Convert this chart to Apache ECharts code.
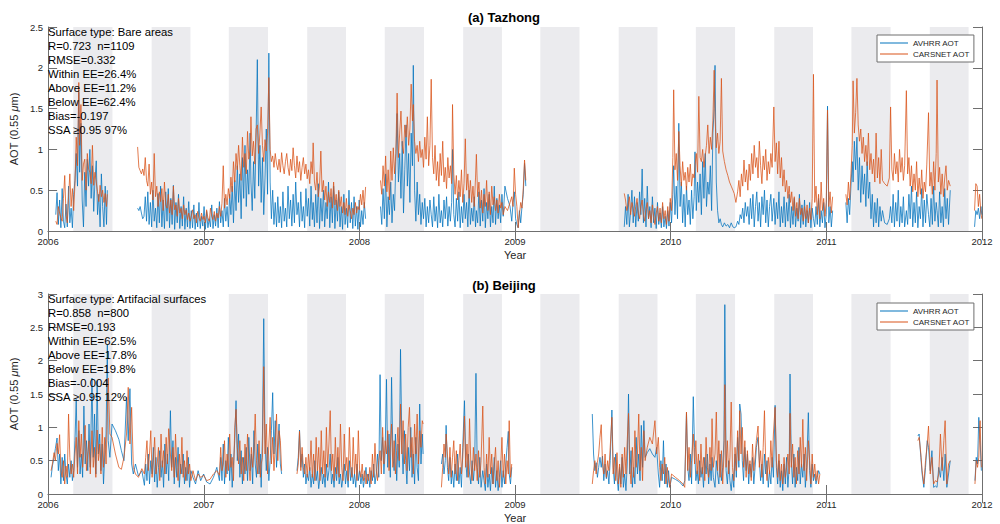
<!DOCTYPE html>
<html>
<head>
<meta charset="utf-8">
<title>AVHRR vs CARSNET AOT</title>
<script src="https://cdn.jsdelivr.net/npm/echarts@6/dist/echarts.min.js"></script>
<style>
  html, body { margin: 0; padding: 0; background: #ffffff; }
  #chart { width: 1000px; height: 524px; }
</style>
</head>
<body>
<div id="chart"></div>
<script>
// ---- data -------------------------------------------------------------
const FONT = '"Liberation Sans", Arial, Helvetica, sans-serif';
const yearTicks = [2006, 2007, 2008, 2009, 2010, 2011, 2012];
const shadedYears = [2006, 2007, 2008, 2009, 2010, 2011];
// shaded seasons: [start month, end month) -> MAM and SON
const shadedSeasons = [[3, 6], [9, 12]];
const seriesNames = ['AVHRR AOT', 'CARSNET AOT'];
const panelTitles = ['(a) Tazhong', '(b) Beijing'];
const panelYMax = [2.5, 3];

const tazhongStats = [
  'Surface type: Bare areas', 'R=0.723  n=1109', 'RMSE=0.332', 'Within EE=26.4%',
  'Above EE=11.2%', 'Below EE=62.4%', 'Bias=-0.197', 'SSA \u22650.95 97%'
];
const beijingStats = [
  'Surface type: Artifacial surfaces', 'R=0.858  n=800', 'RMSE=0.193', 'Within EE=62.5%',
  'Above EE=17.8%', 'Below EE=19.8%', 'Bias=-0.004', 'SSA \u22650.95 12%'
];

// rows: [days since 2006-01-01, AVHRR AOT, CARSNET AOT]; null rows break the line
const tazhongObs = [
  [18,0.20,0.12],[21,0.47,0.08],[24,0.08,0.30],[27,0.38,0.22],[30,0.04,0.16],[33,0.52,0.12],[36,0.12,0.40],[39,0.04,0.68],
  [42,0.33,0.20],[45,0.05,0.10],[48,0.55,0.42],[51,0.10,0.70],[54,0.28,0.30],[57,0.04,0.52],[60,0.45,0.25],[63,0.62,0.58],
  [66,0.95,1.15],[69,0.55,0.80],[72,1.70,1.82],[74,0.72,1.05],[77,1.32,1.55],[80,0.38,0.62],[83,0.05,0.82],[86,0.72,0.88],
  [89,0.30,0.50],[92,0.88,0.95],[95,0.55,0.76],[98,1.00,0.72],[101,0.40,0.58],[104,0.80,1.05],[107,0.24,0.56],[110,0.62,0.72],
  [113,0.86,0.60],[116,0.20,0.48],[119,0.45,0.36],[122,0.05,0.56],[125,0.70,0.42],[128,0.30,0.50],[131,0.05,0.35],[134,0.55,0.46],
  [137,0.08,0.30],[139,0.50,0.45],[170,null,null],
  [210,0.28,1.03],[213,0.25,0.78],[216,0.30,0.74],[219,0.22,0.70],[222,0.15,0.76],[225,0.18,0.68],[228,0.42,0.90],[231,0.12,0.62],
  [234,0.48,0.55],[237,0.08,0.82],[240,0.35,0.45],[243,0.05,0.60],[246,0.50,0.38],[249,0.12,0.95],[252,0.28,0.42],[255,0.04,0.55],
  [258,0.46,0.30],[261,0.10,0.48],[264,0.55,0.36],[267,0.05,0.52],[270,0.38,0.25],[273,0.03,0.60],[276,0.48,0.32],[279,0.12,0.28],
  [282,0.52,0.45],[285,0.04,0.22],[288,0.40,0.38],[291,0.08,0.20],[294,0.56,0.55],[297,0.02,0.26],[300,0.35,0.32],[303,0.10,0.18],
  [306,0.45,0.40],[309,0.03,0.22],[312,0.30,0.28],[315,0.06,0.15],[318,0.42,0.32],[321,0.02,0.20],[324,0.28,0.26],[327,0.05,0.14],
  [330,0.36,0.22],[333,0.03,0.12],[336,0.25,0.18],[339,0.04,0.26],[342,0.32,0.15],[345,0.02,0.20],[348,0.22,0.10],[351,0.05,0.24],
  [354,0.35,0.16],[357,0.03,0.12],[360,0.18,0.22],[363,0.06,0.14],[366,0.30,0.18],[369,0.02,0.10],[372,0.24,0.26],[375,0.04,0.16],
  [378,0.15,0.12],[381,0.05,0.28],[384,0.32,0.18],[387,0.03,0.14],[390,0.20,0.24],[393,0.06,0.12],[396,0.28,0.22],[399,0.04,0.16],
  [402,0.36,0.30],[405,0.10,0.18],[408,0.25,0.34],[411,0.05,0.80],[414,0.40,0.28],[417,0.12,0.45],[420,0.30,0.32],[423,0.05,0.52],
  [426,0.45,0.40],[429,0.20,0.66],[432,0.55,0.48],[435,0.10,0.85],[438,0.62,0.60],[441,0.25,0.95],[444,0.80,0.75],[447,0.35,1.05],
  [450,0.70,0.80],[453,0.15,0.62],[456,0.90,1.15],[459,0.40,0.78],[462,1.05,0.95],[465,0.30,0.70],[468,0.75,1.22],[471,0.45,0.88],
  [474,1.20,1.00],[476,0.60,1.40],[479,0.25,0.92],[482,0.85,1.10],[485,0.40,0.82],[488,1.15,1.25],[491,2.10,1.30],[494,0.55,0.95],
  [497,1.05,1.20],[500,0.35,1.52],[503,0.90,1.05],[506,0.20,0.85],[509,0.65,1.12],[512,1.25,0.98],[515,0.45,1.20],[518,2.18,1.88],
  [521,0.60,1.00],[524,0.15,0.85],[527,0.50,0.92],[530,0.08,0.78],[533,0.35,0.95],[536,0.05,0.82],[539,0.42,0.75],[542,0.10,0.88],
  [545,0.30,0.72],[548,0.04,0.96],[551,0.48,0.80],[554,0.12,0.70],[557,0.28,0.85],[560,0.05,0.95],[563,0.55,0.78],[566,0.15,0.68],
  [569,0.38,0.88],[572,0.06,0.74],[575,0.45,1.02],[578,0.10,0.80],[581,0.60,0.65],[584,0.20,0.92],[587,0.35,0.72],[590,0.05,0.85],
  [593,0.48,0.62],[596,0.12,0.78],[599,0.30,0.90],[602,0.04,0.70],[605,0.52,0.82],[608,0.18,0.64],[611,0.40,0.75],[614,0.06,0.58],
  [617,0.55,0.85],[620,0.14,0.70],[622,0.35,1.08],[625,0.05,0.60],[628,0.45,0.50],[631,0.10,0.72],[634,0.58,0.42],[637,0.03,0.55],
  [640,0.40,0.98],[643,0.12,0.48],[646,0.50,0.62],[649,0.05,0.38],[652,0.35,0.55],[655,0.15,0.30],[658,0.60,0.48],[661,0.04,0.35],
  [664,0.42,0.52],[667,0.10,0.28],[670,0.55,0.60],[673,0.03,0.32],[676,0.38,0.45],[679,0.12,0.25],[682,0.48,0.50],[685,0.05,0.30],
  [688,0.30,0.42],[691,0.02,0.22],[694,0.45,0.35],[697,0.08,0.20],[700,0.28,0.40],[703,0.04,0.18],[706,0.50,0.32],[709,0.10,0.25],
  [712,0.35,0.15],[715,0.03,0.28],[718,0.42,0.20],[721,0.06,0.35],[724,0.30,0.22],[727,0.02,0.30],[730,0.38,0.26],[733,0.05,0.45],
  [736,0.25,0.32],[739,0.08,0.50],[742,0.35,0.28],[745,0.15,0.54],[760,null,null],
  [780,0.30,0.62],[783,0.08,0.45],[786,0.52,0.80],[789,0.15,0.55],[792,0.70,0.92],[795,0.05,0.48],[798,0.42,0.75],[801,0.20,0.38],
  [804,0.60,0.98],[807,0.10,0.62],[810,0.45,1.02],[813,0.25,0.70],[816,0.85,0.95],[819,1.44,1.69],[822,0.60,0.90],[825,0.95,1.20],
  [828,0.40,1.47],[831,1.10,1.05],[834,0.22,0.95],[837,0.75,1.30],[840,1.30,1.15],[843,0.55,1.40],[846,0.95,1.05],[849,0.35,1.25],
  [852,1.20,1.80],[855,0.80,1.35],[857,2.03,1.55],[860,0.50,1.10],[863,0.12,0.95],[866,0.60,1.05],[869,0.20,0.85],[872,0.45,1.10],
  [875,0.08,0.90],[878,0.35,1.00],[881,0.15,0.78],[884,0.40,1.15],[887,0.05,0.88],[890,0.30,1.40],[893,0.10,0.80],[896,0.38,1.05],
  [899,0.20,1.86],[902,0.05,0.90],[905,0.42,0.70],[908,0.12,1.05],[911,0.30,0.62],[914,0.04,0.85],[917,0.45,0.55],[920,0.10,0.95],
  [923,0.25,0.68],[926,0.05,1.10],[929,0.38,0.60],[932,0.15,0.78],[935,0.42,0.52],[938,0.06,0.90],[941,0.30,0.65],[944,0.12,0.80],
  [947,0.35,0.58],[949,1.00,1.55],[952,0.20,0.70],[955,0.05,0.45],[958,0.40,0.68],[961,0.12,0.38],[964,0.48,0.62],[967,0.04,0.42],
  [970,0.30,0.75],[973,0.10,0.35],[976,0.45,0.58],[979,0.15,1.13],[982,0.35,0.50],[985,0.05,0.70],[988,0.50,0.40],[991,0.08,0.62],
  [994,0.28,0.35],[997,0.12,0.55],[1000,0.42,0.30],[1003,0.05,0.65],[1005,0.25,0.94],[1008,0.10,0.42],[1011,0.48,0.60],[1014,0.06,0.28],
  [1017,0.38,0.50],[1020,0.12,0.22],[1023,0.52,0.45],[1026,0.04,0.30],[1029,0.35,0.62],[1032,0.15,0.25],[1035,0.45,0.48],[1038,0.05,0.20],
  [1041,0.30,0.55],[1044,0.10,0.32],[1047,0.55,0.42],[1050,0.08,0.25],[1053,0.40,0.38],[1056,0.15,0.22],[1059,0.32,0.45],[1062,0.10,0.28],
  [1065,0.45,0.35],[1068,0.18,0.20],[1072,0.55,0.30],[1078,0.40,0.25],[1084,0.30,0.35],[1088,0.12,0.42],[1091,0.35,0.30],[1094,0.48,0.77],
  [1097,0.15,0.45],[1100,0.08,0.30],[1103,0.04,0.04],[1106,0.25,0.20],[1109,0.10,0.35],[1112,0.30,0.28],[1115,0.45,0.52],[1118,0.83,0.87],
  [1121,0.55,0.62],[1200,null,null],
  [1352,0.05,0.46],[1355,0.30,0.38],[1358,0.08,0.25],[1361,0.45,0.32],[1364,0.05,0.42],[1367,0.25,0.20],[1370,0.50,0.35],[1373,0.10,0.28],
  [1376,0.42,0.18],[1379,0.05,0.30],[1382,0.35,0.40],[1385,0.12,0.22],[1388,0.48,0.15],[1391,0.20,0.30],[1394,0.76,0.38],[1397,0.10,0.20],
  [1400,0.40,0.12],[1403,0.05,0.28],[1406,0.55,0.35],[1409,0.15,0.15],[1412,0.30,0.25],[1415,0.04,0.10],[1418,0.42,0.32],[1421,0.10,0.18],
  [1424,0.28,0.08],[1427,0.03,0.22],[1430,0.35,0.30],[1433,0.08,0.12],[1436,0.22,0.28],[1439,0.04,0.10],[1442,0.30,0.35],[1445,0.05,0.15],
  [1448,0.18,0.25],[1451,0.03,0.08],[1454,0.25,0.30],[1457,0.06,0.12],[1460,0.35,0.40],[1463,0.10,0.25],[1466,0.45,0.90],[1468,0.80,1.73],
  [1471,0.20,0.75],[1474,0.55,0.95],[1477,0.15,0.62],[1480,1.32,1.22],[1483,0.30,0.80],[1486,0.60,0.55],[1489,0.10,0.85],[1492,0.45,0.62],
  [1495,0.05,0.72],[1498,0.55,0.50],[1501,0.20,0.78],[1504,0.38,0.60],[1507,0.08,0.82],[1510,0.50,0.55],[1513,0.15,0.70],[1516,0.42,0.65],
  [1518,0.97,0.80],[1521,0.25,0.95],[1524,0.60,0.72],[1527,0.35,1.65],[1530,0.70,0.90],[1533,0.20,0.85],[1536,0.85,1.00],[1539,0.40,0.78],
  [1542,0.95,0.92],[1545,0.30,1.05],[1548,0.60,1.30],[1551,0.45,0.95],[1554,0.80,1.15],[1557,0.25,1.00],[1560,1.20,1.35],[1563,1.50,1.97],
  [1565,2.03,1.40],[1568,0.60,1.02],[1571,0.25,1.20],[1574,0.10,0.95],[1577,0.15,1.10],[1580,0.08,1.87],[1583,0.05,0.98],[1587,0.10,0.85],
  [1591,0.06,0.75],[1595,0.08,0.68],[1599,0.04,0.60],[1603,0.10,0.55],[1607,0.05,0.50],[1610,0.04,0.46],[1614,0.05,0.35],[1618,0.12,0.48],
  [1621,0.08,0.62],[1624,0.20,0.42],[1627,0.15,0.70],[1630,0.28,0.55],[1633,0.10,0.87],[1636,0.35,0.60],[1639,0.18,0.75],[1642,0.30,0.50],
  [1645,0.08,0.82],[1648,0.40,0.62],[1651,0.15,0.95],[1654,0.45,0.70],[1657,0.05,1.05],[1660,0.30,0.78],[1663,0.48,0.90],[1666,0.12,0.65],
  [1669,0.35,1.10],[1672,0.05,0.80],[1675,0.42,0.58],[1678,0.20,0.92],[1681,0.50,0.75],[1684,0.10,1.00],[1687,0.38,0.62],[1690,0.05,0.85],
  [1693,0.30,0.70],[1696,0.45,0.95],[1699,0.12,0.78],[1703,0.40,1.52],[1706,0.08,0.85],[1709,0.35,1.08],[1712,0.15,0.70],[1715,0.48,1.10],
  [1718,0.05,0.65],[1721,0.30,0.90],[1724,0.10,0.55],[1727,0.42,0.75],[1730,0.05,0.48],[1733,0.35,0.62],[1736,0.12,0.40],[1739,0.45,0.55],
  [1742,0.04,0.35],[1745,0.30,0.48],[1748,0.08,0.25],[1751,0.40,0.42],[1754,0.05,0.18],[1757,0.28,0.35],[1760,0.12,0.15],[1763,0.45,0.40],
  [1766,0.04,0.20],[1769,0.32,0.28],[1772,0.08,0.12],[1775,0.38,0.30],[1778,0.05,0.15],[1781,0.25,0.32],[1784,0.10,0.10],[1787,0.35,0.28],
  [1790,0.04,0.14],[1793,0.28,0.40],[1796,0.15,1.92],[1799,0.05,0.35],[1802,0.30,0.55],[1805,0.08,0.20],[1808,0.40,0.45],[1811,0.05,0.15],
  [1814,0.25,0.60],[1817,0.10,0.25],[1820,0.35,0.40],[1823,0.04,0.18],[1826,0.20,0.35],[1829,1.53,1.48],[1832,0.10,0.30],[1835,0.30,0.48],
  [1838,0.05,0.22],[1841,0.25,0.42],[1855,null,null],
  [1872,0.35,0.45],[1875,0.10,0.32],[1878,0.40,0.60],[1881,0.20,0.38],[1884,0.55,0.70],[1887,0.85,1.05],[1889,0.60,1.84],[1892,1.10,1.20],
  [1895,0.75,1.45],[1898,1.15,1.87],[1901,0.50,1.30],[1904,0.90,1.10],[1907,0.35,1.25],[1910,0.80,0.95],[1913,0.45,1.15],[1916,0.70,0.85],
  [1919,0.30,1.05],[1922,0.85,0.80],[1925,0.40,1.20],[1928,0.60,0.75],[1931,0.15,0.95],[1934,0.45,0.70],[1937,0.05,0.88],[1940,0.35,0.60],
  [1943,0.10,1.20],[1946,0.40,0.65],[1949,0.05,0.90],[1952,0.30,0.58],[1955,0.12,1.00],[1958,0.25,0.62],[1963,0.10,0.58],[1969,0.08,0.55],
  [1974,0.15,0.65],[1977,0.30,1.52],[1980,0.10,0.75],[1983,0.45,0.62],[1986,0.05,0.95],[1989,0.35,0.70],[1992,0.12,0.85],[1995,0.50,0.60],
  [1998,0.05,1.00],[2001,0.30,0.72],[2004,0.10,0.90],[2007,0.42,0.62],[2010,0.05,0.80],[2014,0.25,1.72],[2017,0.08,0.70],[2020,0.45,0.90],
  [2023,0.15,0.55],[2026,0.55,0.80],[2029,0.05,0.48],[2032,0.35,0.70],[2035,0.10,0.50],[2038,0.48,0.85],[2041,0.04,0.42],[2044,0.30,0.65],
  [2047,0.15,0.45],[2050,0.52,0.75],[2053,0.05,0.40],[2056,0.38,0.60],[2059,0.10,0.48],[2062,0.45,0.82],[2066,0.20,1.45],[2069,0.05,0.55],
  [2072,0.40,0.72],[2075,0.08,0.45],[2078,0.55,0.85],[2081,0.12,0.50],[2084,0.35,0.95],[2086,0.25,1.85],[2089,0.05,0.60],[2092,0.48,0.78],
  [2095,0.10,0.45],[2098,0.30,0.70],[2101,0.05,0.42],[2104,0.52,0.65],[2107,0.15,0.80],[2110,0.40,0.50],[2113,0.08,0.62],[2117,0.50,0.55],
  [2140,null,null],
  [2174,0.05,0.25],[2177,0.25,0.58],[2180,0.20,0.55],[2183,0.28,0.30],[2186,0.15,0.45],[2189,0.30,0.22],[2191,0.20,0.15]
];

const beijingObs = [
  [7,0.25,0.35],[10,0.42,0.45],[14,0.55,0.62],[17,0.68,0.50],[21,0.84,0.76],[24,0.35,0.60],[27,0.60,0.89],[30,0.15,0.35],
  [33,0.55,0.25],[36,0.20,0.50],[39,0.60,0.15],[42,0.30,0.42],[45,0.15,0.25],[48,0.45,1.20],[51,0.25,0.55],[54,0.50,0.30],
  [57,0.20,0.45],[60,0.35,0.25],[63,0.80,0.60],[66,1.42,0.85],[69,0.40,0.30],[72,0.95,1.10],[75,0.30,0.55],[78,0.60,0.90],
  [81,0.25,0.40],[84,1.32,0.70],[87,0.45,1.03],[90,0.80,0.35],[93,0.35,0.60],[96,1.05,0.80],[99,0.40,0.30],[103,1.74,0.95],
  [106,0.55,0.40],[109,1.20,0.70],[112,0.30,0.25],[115,1.70,0.96],[118,0.60,0.50],[121,0.90,0.75],[124,0.35,0.30],[127,0.75,1.00],
  [130,0.15,0.40],[133,0.60,0.85],[136,0.90,0.45],[139,2.24,1.20],[141,0.80,1.74],[145,0.55,0.90],[150,1.05,0.85],[158,0.95,0.60],
  [166,0.82,0.40],[172,0.65,0.37],[178,0.50,0.55],[184,1.45,0.90],[188,0.80,1.60],[192,1.58,0.75],[196,0.45,1.30],[200,0.30,0.40],
  [205,0.45,0.30],[212,0.27,0.25],[220,0.35,0.38],[226,0.13,0.30],[229,0.45,0.55],[232,0.20,0.80],[235,0.60,0.35],[238,0.15,0.60],
  [241,0.50,0.95],[244,0.30,0.25],[247,0.70,0.50],[250,0.18,0.85],[253,0.55,0.30],[256,0.10,0.45],[259,0.40,0.70],[262,0.65,0.20],
  [265,0.25,0.90],[268,0.50,0.40],[271,0.10,0.65],[274,0.75,0.30],[277,0.30,0.85],[280,0.60,0.45],[283,0.20,0.98],[287,1.25,0.60],
  [290,0.40,0.35],[293,0.80,0.70],[296,0.15,0.25],[299,0.55,0.90],[302,0.25,0.40],[305,0.70,0.20],[308,0.10,0.60],[311,0.45,0.30],
  [314,0.30,0.85],[317,0.60,0.25],[320,0.15,0.50],[323,0.40,0.20],[326,0.20,0.65],[329,0.55,0.30],[332,0.10,0.45],[335,0.35,0.20],
  [340,0.25,0.35],[346,0.15,0.20],[352,0.35,0.30],[358,0.20,0.25],[365,0.30,0.28],[372,0.18,0.20],[380,0.15,0.22],[388,0.25,0.30],
  [396,0.40,0.35],[402,0.20,0.28],[405,0.55,0.70],[408,0.20,0.35],[411,0.75,0.45],[414,0.15,0.80],[417,0.50,0.25],[420,0.30,0.60],
  [423,0.85,0.35],[426,0.20,0.90],[429,0.60,0.40],[432,0.10,0.55],[435,0.45,0.20],[438,0.80,1.00],[441,1.40,1.27],[444,0.50,0.70],
  [447,0.90,0.45],[450,0.25,0.80],[453,0.65,0.30],[456,0.15,0.55],[459,0.55,0.20],[462,0.30,0.75],[465,0.70,0.35],[468,0.20,0.90],
  [471,0.85,0.45],[474,0.35,0.20],[477,0.60,0.70],[480,0.15,0.40],[483,0.95,0.65],[486,0.45,1.20],[489,0.25,0.50],[492,0.75,0.30],
  [495,0.30,0.80],[498,0.60,0.25],[500,0.10,0.45],[503,0.90,0.55],[506,2.63,1.91],[509,0.80,0.60],[512,0.35,1.05],[515,0.70,0.30],
  [518,0.20,0.75],[521,0.50,1.15],[524,0.95,0.45],[527,1.52,0.85],[530,0.60,0.35],[533,1.10,0.70],[536,0.40,1.20],[539,0.75,0.50],
  [542,1.05,0.95],[545,0.45,0.80],[548,0.30,0.35],[570,null,null],
  [584,0.35,0.30],[587,0.55,0.45],[590,0.96,0.94],[593,0.40,0.35],[596,0.60,0.70],[599,0.25,0.40],[602,0.45,0.30],[605,0.15,0.55],
  [608,0.30,0.25],[611,0.20,0.60],[614,0.40,0.35],[617,0.10,0.80],[620,0.30,0.25],[623,0.15,0.60],[626,0.50,0.20],[629,0.20,0.85],
  [632,0.35,0.35],[635,0.08,0.70],[638,0.25,0.20],[641,0.40,0.95],[644,0.15,0.30],[647,0.30,0.65],[650,0.10,0.25],[653,0.45,1.00],
  [656,0.20,0.40],[659,0.35,0.75],[662,0.60,1.25],[665,0.15,0.35],[668,0.30,0.60],[671,0.10,0.20],[674,0.40,0.85],[677,0.20,0.30],
  [680,0.55,0.70],[683,0.15,0.25],[686,0.30,1.05],[689,0.10,0.40],[692,0.25,0.20],[695,0.45,0.90],[698,0.15,0.35],[701,0.35,0.55],
  [704,0.10,0.20],[707,0.50,1.00],[710,0.20,0.40],[713,0.40,0.25],[716,0.15,0.85],[719,0.30,0.30],[722,0.10,0.60],[725,0.45,0.20],
  [728,0.20,0.95],[731,0.35,0.35],[734,0.15,0.25],[737,0.30,0.45],[740,0.10,0.20],[743,0.25,0.35],[746,0.40,0.15],[749,0.15,0.30],
  [752,0.30,0.20],[755,0.10,0.40],[758,0.35,0.15],[761,0.20,0.60],[764,0.45,0.25],[767,0.15,0.76],[770,0.30,0.35],[773,0.60,0.20],
  [776,0.25,0.50],[779,1.79,0.65],[782,0.50,0.30],[785,0.85,1.00],[788,0.30,0.45],[791,0.65,0.80],[794,1.72,0.60],[797,0.40,0.95],
  [800,0.90,0.35],[803,0.25,0.70],[806,1.75,1.05],[809,0.60,0.40],[812,0.35,0.80],[815,0.90,0.30],[818,0.20,0.65],[821,0.75,1.00],
  [824,0.40,0.50],[827,2.17,1.35],[830,0.80,0.60],[833,0.30,1.10],[836,0.95,0.45],[839,0.50,0.90],[842,0.15,0.35],[845,0.70,1.00],
  [848,0.35,1.30],[851,1.00,0.55],[854,0.25,0.85],[857,0.60,0.30],[860,0.15,1.05],[863,0.85,0.60],[866,0.40,1.20],[869,0.20,0.45],
  [872,1.35,0.95],[875,0.45,0.70],[878,0.90,1.10],[880,0.60,1.05],[895,null,null],
  [923,0.45,0.10],[926,0.60,0.40],[929,0.30,0.75],[932,0.50,0.55],[934,1.03,0.90],[937,0.40,0.60],[940,0.20,0.30],[943,0.55,0.70],
  [946,0.15,0.25],[949,0.35,0.55],[952,0.10,0.80],[955,0.45,0.30],[958,0.20,0.65],[961,0.60,0.20],[964,0.15,0.50],[967,0.40,0.75],
  [970,0.10,0.30],[973,0.70,0.55],[977,1.40,1.17],[980,0.50,0.40],[983,0.25,0.75],[986,0.60,0.25],[989,0.30,1.13],[992,0.15,0.45],
  [995,0.50,0.20],[998,0.20,0.70],[1001,0.45,0.35],[1004,1.81,0.60],[1007,0.40,0.20],[1010,0.15,0.65],[1013,0.55,0.25],[1016,0.10,0.50],
  [1020,0.35,1.32],[1023,0.20,0.40],[1026,0.05,0.15],[1029,0.45,0.60],[1032,0.10,0.25],[1035,0.30,0.85],[1038,0.05,0.30],[1041,0.40,0.60],
  [1044,0.15,0.15],[1047,0.55,0.45],[1050,0.10,0.70],[1053,0.35,0.20],[1056,0.05,0.50],[1059,0.25,0.10],[1062,0.50,0.40],[1065,0.10,0.85],
  [1068,0.35,0.25],[1071,0.15,0.60],[1074,0.45,0.15],[1077,0.70,0.50],[1080,0.94,0.30],[1082,0.30,1.10],[1085,0.15,0.25],[1088,0.40,0.45],
  [1110,null,null],
  [1277,1.20,0.15],[1280,0.60,0.35],[1283,0.35,0.50],[1286,0.47,0.30],[1289,0.25,0.47],[1292,0.40,0.60],[1295,0.55,0.85],[1298,0.40,1.04],
  [1301,0.57,0.45],[1304,0.20,0.30],[1307,0.45,0.60],[1310,0.23,0.25],[1313,0.35,0.50],[1316,0.15,0.35],[1319,0.50,0.70],[1323,1.26,1.15],
  [1326,0.40,0.30],[1329,0.15,0.55],[1332,0.60,0.20],[1335,0.25,0.62],[1338,0.05,0.15],[1341,0.40,0.45],[1344,0.15,0.10],[1347,0.55,0.60],
  [1350,0.10,0.25],[1353,0.30,0.70],[1356,0.05,0.30],[1359,0.45,0.80],[1362,1.50,1.21],[1365,0.30,0.40],[1368,0.65,0.15],[1371,0.10,0.70],
  [1374,0.40,0.25],[1377,0.15,0.95],[1380,0.85,0.40],[1383,0.30,0.60],[1386,0.60,1.20],[1389,0.20,0.35],[1392,1.03,0.70],[1395,0.40,0.20],
  [1398,1.10,0.95],[1401,0.55,0.50],[1406,0.62,0.70],[1412,0.68,0.85],[1418,0.60,0.75],[1424,0.55,1.10],[1428,0.70,0.60],[1432,0.30,0.85],
  [1435,0.10,0.40],[1438,0.50,0.20],[1441,0.20,0.45],[1444,0.80,0.30],[1447,0.15,0.55],[1450,0.45,0.15],[1453,0.10,0.40],[1456,0.35,0.20],
  [1459,0.10,0.10],[1463,0.25,0.30],[1472,0.22,0.25],[1482,0.18,0.20],[1490,0.12,0.15],[1494,0.20,0.10],[1498,1.22,1.23],[1501,0.40,0.35],
  [1504,0.20,0.70],[1507,0.60,0.25],[1510,0.15,0.50],[1514,1.46,0.90],[1517,0.70,0.45],[1520,0.20,0.80],[1523,0.35,0.30],[1526,0.15,0.60],
  [1529,0.50,0.20],[1532,0.25,0.75],[1535,0.40,0.30],[1538,0.10,0.55],[1541,0.55,0.20],[1544,0.30,0.85],[1547,0.60,0.40],[1550,0.15,0.25],
  [1553,0.45,0.70],[1556,0.20,0.35],[1558,0.55,1.13],[1561,0.25,0.40],[1565,0.10,0.60],[1568,0.50,1.23],[1571,0.30,0.35],[1574,0.15,0.80],
  [1577,0.60,0.25],[1580,0.20,0.65],[1583,0.40,0.15],[1586,0.80,0.60],[1588,2.84,1.64],[1591,0.35,0.40],[1594,0.15,0.80],[1597,0.50,0.30],
  [1600,0.20,0.55],[1603,0.05,1.38],[1606,0.30,0.40],[1609,0.10,0.20],[1612,0.60,0.70],[1615,0.25,0.35],[1618,0.85,0.95],[1621,0.40,0.50],
  [1623,1.35,1.25],[1626,1.20,0.60],[1629,0.50,1.00],[1632,0.20,0.40],[1635,0.70,0.80],[1638,0.35,0.25],[1641,0.60,0.65],[1644,0.15,0.30],
  [1647,0.45,0.50],[1650,0.25,0.20],[1653,0.55,0.75],[1656,0.15,0.35],[1659,0.40,0.55],[1662,0.70,0.80],[1666,0.85,1.02],[1669,0.50,0.40],
  [1672,0.20,0.65],[1675,0.45,0.25],[1678,0.15,0.70],[1681,0.60,1.25],[1684,0.30,0.45],[1687,0.50,0.20],[1690,0.10,0.55],[1693,0.35,0.30],
  [1696,0.15,0.80],[1699,0.55,0.40],[1702,0.25,0.90],[1706,1.33,1.30],[1709,0.40,0.50],[1712,0.15,0.25],[1715,0.50,0.60],[1718,0.10,0.20],
  [1721,0.35,0.45],[1724,0.05,0.15],[1727,0.45,0.55],[1730,0.15,0.25],[1733,0.55,0.40],[1736,0.10,0.60],[1739,0.40,0.30],[1741,1.80,1.21],
  [1744,0.50,0.40],[1747,0.15,0.75],[1750,0.60,0.25],[1753,0.10,0.55],[1756,0.40,0.15],[1759,0.20,0.65],[1762,0.70,0.30],[1765,0.15,0.85],
  [1768,0.45,0.40],[1771,0.25,1.12],[1774,0.60,0.35],[1777,0.10,0.70],[1780,0.40,0.20],[1784,1.22,0.80],[1787,0.35,0.50],[1790,0.10,0.15],
  [1793,0.45,0.60],[1796,0.20,0.25],[1799,0.30,0.45],[1802,0.15,0.20],[1805,0.25,0.35],[1808,0.35,0.15],[1811,0.30,0.30],[1830,null,null],
  [2041,0.87,0.80],[2044,0.90,0.85],[2048,0.55,0.60],[2051,0.30,0.35],[2055,0.10,0.15],[2059,0.40,0.50],[2063,0.80,0.75],[2066,0.70,1.02],
  [2070,0.35,0.30],[2074,0.65,0.55],[2078,0.10,0.15],[2082,0.12,0.20],[2086,0.10,0.18],[2090,0.40,0.30],[2094,0.25,0.90],[2098,0.55,0.35],
  [2102,0.20,0.80],[2105,0.60,1.10],[2109,0.10,0.15],[2113,0.30,0.45],[2117,0.50,0.50],[2140,null,null],
  [2175,0.20,0.15],[2178,0.55,0.50],[2181,0.45,0.40],[2184,1.15,0.55],[2187,0.80,1.10],[2190,0.35,0.40]
];

// ---- helpers -------------------------------------------------------------
const DAY_MS = 86400000;
const T0 = Date.UTC(2006, 0, 1);
const dayToYear = d => 2006 + d / 365.25;
const dateToYear = (y, m) => dayToYear((Date.UTC(y, m - 1, 1) - T0) / DAY_MS);

function column(obs, k) {
  return obs.map(r => [dayToYear(r[0]), r[k] === null ? '-' : r[k]]);
}

const bands = [];
shadedYears.forEach(y => shadedSeasons.forEach(s => {
  bands.push([{ xAxis: dateToYear(y, s[0]) }, { xAxis: dateToYear(y, s[1]) }]);
}));

const grids = [
  { left: 43, right: 18, top: 27, height: 204 },
  { left: 43, right: 18, top: 294, height: 205 }
];

const AXIS_COLOR = '#6f6f6f';
const TEXT_COLOR = '#262626';

const xAxes = [], yAxes = [];
[0, 1].forEach(g => {
  const common = {
    type: 'value', gridIndex: g, min: yearTicks[0], max: yearTicks[yearTicks.length - 1], interval: 1,
    axisLine: { show: true, lineStyle: { color: AXIS_COLOR, width: 1 } },
    axisTick: { show: true, inside: true, length: 9, lineStyle: { color: AXIS_COLOR } },
    splitLine: { show: false }
  };
  xAxes.push(Object.assign({}, common, {
    position: 'bottom',
    axisLabel: { color: TEXT_COLOR, fontSize: 9.5, fontFamily: FONT, margin: 5, formatter: v => String(v) },
    name: 'Year', nameLocation: 'middle', nameGap: 18,
    nameTextStyle: { color: TEXT_COLOR, fontSize: 11, fontFamily: FONT }
  }));
  xAxes.push(Object.assign({}, common, { position: 'top', axisLabel: { show: false } }));
  const yc = {
    type: 'value', gridIndex: g, min: 0, max: panelYMax[g], interval: 0.5,
    axisLine: { show: true, lineStyle: { color: AXIS_COLOR, width: 1 } },
    axisTick: { show: true, inside: true, length: 9, lineStyle: { color: AXIS_COLOR } },
    splitLine: { show: false }
  };
  yAxes.push(Object.assign({}, yc, {
    position: 'left',
    axisLabel: { color: TEXT_COLOR, fontSize: 9.5, fontFamily: FONT, margin: 5 },
    name: 'AOT (0.55 {i|\u03bc}m)', nameLocation: 'middle', nameGap: 20, nameRotate: 90,
    nameTextStyle: { color: TEXT_COLOR, fontSize: 11, fontFamily: FONT,
      rich: { i: { fontStyle: 'italic', fontSize: 11, fontFamily: FONT, color: TEXT_COLOR } } }
  }));
  yAxes.push(Object.assign({}, yc, { position: 'right', axisLabel: { show: false } }));
});

const COLORS = ['#0072BD', '#D95319'];
const series = [];
[tazhongObs, beijingObs].forEach((obs, g) => {
  series.push({
    type: 'line', xAxisIndex: 2 * g, yAxisIndex: 2 * g, data: [], silent: true, z: 1,
    markArea: { silent: true, itemStyle: { color: '#ebebee' }, data: bands }
  });
  [1, 2].forEach(k => {
    series.push({
      name: seriesNames[k - 1], type: 'line', xAxisIndex: 2 * g, yAxisIndex: 2 * g,
      data: column(obs, k), showSymbol: false, symbol: 'none', connectNulls: false,
      silent: true, z: 2 + k, animation: false,
      lineStyle: { color: COLORS[k - 1], width: 0.9, opacity: 0.85 },
      itemStyle: { color: COLORS[k - 1] }
    });
  });
});

const legendTops = [35, 303];
const legends = legendTops.map(t => ({
  data: seriesNames, orient: 'vertical', left: 877, top: t,
  icon: 'rect', itemWidth: 28, itemHeight: 1, itemGap: 3, itemTextGap: 4,
  padding: [4, 4, 4, 3], backgroundColor: '#ffffff',
  borderColor: '#6f6f6f', borderWidth: 1, selectedMode: false,
  textStyle: { fontSize: 8, fontFamily: FONT, color: TEXT_COLOR }
}));

const statBlocks = [tazhongStats, beijingStats];
const statTops = [25, 292];
const titleTops = [17, 285];
const graphics = [];
[0, 1].forEach(g => {
  graphics.push({
    type: 'text', x: 504, y: titleTops[g], silent: true, z: 10,
    style: { text: panelTitles[g], fill: '#000', font: 'bold 13px ' + FONT, textAlign: 'center', textVerticalAlign: 'middle' }
  });
  graphics.push({
    type: 'text', x: 48, y: statTops[g], silent: true, z: 10,
    style: { text: statBlocks[g].join('\n'), fill: '#000', font: '11.3px ' + FONT, lineHeight: 14 }
  });
});

const chart = echarts.init(document.getElementById('chart'), null, { renderer: 'svg' });
chart.setOption({
  animation: false,
  backgroundColor: '#ffffff',
  grid: grids,
  xAxis: xAxes,
  yAxis: yAxes,
  legend: legends,
  series: series,
  graphic: graphics
});
</script>
</body>
</html>
